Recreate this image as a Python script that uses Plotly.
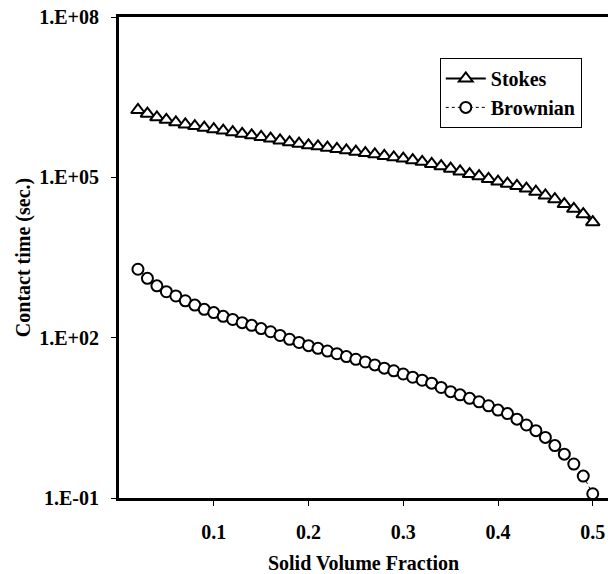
import plotly.graph_objects as go

phi = [0.02, 0.03, 0.04, 0.05, 0.06, 0.07, 0.08, 0.09, 0.10, 0.11, 0.12, 0.13,
       0.14, 0.15, 0.16, 0.17, 0.18, 0.19, 0.20, 0.21, 0.22, 0.23, 0.24, 0.25,
       0.26, 0.27, 0.28, 0.29, 0.30, 0.31, 0.32, 0.33, 0.34, 0.35, 0.36, 0.37,
       0.38, 0.39, 0.40, 0.41, 0.42, 0.43, 0.44, 0.45, 0.46, 0.47, 0.48, 0.49, 0.50]

stokes = [1.82e6, 1.55e6, 1.33e6, 1.19e6, 1.07e6, 9.77e5, 9.12e5, 8.51e5, 7.94e5,
          7.50e5, 7.00e5, 6.53e5, 6.10e5, 5.69e5, 5.31e5, 4.90e5, 4.52e5, 4.27e5,
          3.98e5, 3.80e5, 3.59e5, 3.39e5, 3.20e5, 3.02e5, 2.85e5, 2.69e5, 2.51e5,
          2.37e5, 2.24e5, 2.09e5, 1.95e5, 1.78e5, 1.62e5, 1.45e5, 1.29e5, 1.15e5,
          1.05e5, 9.33e4, 8.32e4, 7.59e4, 6.92e4, 6.17e4, 5.37e4, 4.57e4, 3.89e4,
          3.16e4, 2.57e4, 2.04e4, 1.45e4]

brownian = [1905, 1288, 933, 724, 603, 490, 407, 339, 295, 251, 219, 191, 170, 148,
            129, 110, 93.3, 81.3, 70.8, 63.1, 56.2, 50.1, 44.2, 39.4, 35.1, 30.9,
            26.9, 24.0, 20.9, 18.2, 16.0, 14.1, 11.7, 9.77, 8.51, 7.33, 6.31, 5.31,
            4.42, 3.80, 2.99, 2.32, 1.82, 1.36, 0.955, 0.661, 0.432, 0.257, 0.120]

x_ticks = [0.1, 0.2, 0.3, 0.4, 0.5]
x_ticklabels = ["0.1", "0.2", "0.3", "0.4", "0.5"]
y_ticks = [1e-1, 1e2, 1e5, 1e8]
y_ticklabels = ["1.E-01", "1.E+02", "1.E+05", "1.E+08"]

FONT = "Liberation Serif, Times New Roman, serif"

fig = go.Figure()
fig.add_trace(go.Scatter(
    x=phi, y=stokes, name="Stokes", mode="lines+markers",
    line=dict(color="black", width=2),
    marker=dict(symbol="triangle-up", size=12, color="white",
                line=dict(color="black", width=2)),
    cliponaxis=False,
))
fig.add_trace(go.Scatter(
    x=phi, y=brownian, name="Brownian", mode="lines+markers",
    line=dict(color="black", width=1, dash="dot"),
    marker=dict(symbol="circle", size=11, color="white",
                line=dict(color="black", width=2)),
    cliponaxis=False,
))

fig.update_layout(
    width=608, height=574,
    margin=dict(l=119, r=0, t=17, b=76),
    paper_bgcolor="white", plot_bgcolor="white",
    font=dict(family=FONT, size=20, color="black", weight="bold"),
    showlegend=True,
    legend=dict(
        x=0.656, y=0.915, xanchor="left", yanchor="top",
        bordercolor="black", borderwidth=1, bgcolor="white",
        font=dict(family=FONT, size=20, color="black", weight="bold"),
        tracegroupgap=0, itemwidth=40,
    ),
    xaxis=dict(
        range=[0, 0.5161], tickvals=x_ticks, ticktext=x_ticklabels,
        showline=True, linecolor="black", linewidth=3, mirror=True,
        ticks="outside", ticklen=5, tickwidth=1, tickcolor="black",
        showgrid=False, zeroline=False, ticklabelstandoff=9,
        title=dict(text="Solid Volume Fraction", standoff=14,
                   font=dict(family=FONT, size=20, weight="bold")),
    ),
    yaxis=dict(
        type="log", range=[-1, 8], tickvals=y_ticks, ticktext=y_ticklabels,
        showline=True, linecolor="black", linewidth=3, mirror=False,
        ticks="outside", ticklen=5, tickwidth=1, tickcolor="black",
        showgrid=False, zeroline=False, ticklabelstandoff=8,
        title=dict(text="Contact time (sec.)", standoff=4,
                   font=dict(family=FONT, size=20, weight="bold")),
    ),
)

fig.write_html("out.html")
